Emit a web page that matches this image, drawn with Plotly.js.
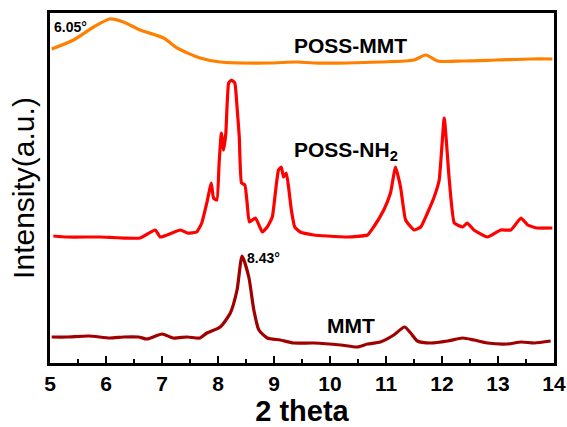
<!DOCTYPE html>
<html>
<head>
<meta charset="utf-8">
<script src="https://cdn.plot.ly/plotly-3.0.1.min.js"></script>
<style>
html,body{margin:0;padding:0;background:#fff;}
#chart{width:567px;height:427px;}
</style>
</head>
<body>
<div id="chart"></div>
<script>
// 2 theta (degrees) and relative intensity (a.u., offset-stacked)
const mmtX = [5.03,5.3,5.69,6.07,6.31,6.58,6.73,7.0,7.2,7.45,7.68,7.8,8.04,8.22,8.34,8.43,8.55,8.64,8.73,8.88,9.11,9.35,9.71,10.19,10.49,10.67,10.9,11.14,11.33,11.44,11.56,11.8,12.1,12.37,12.57,12.81,13.17,13.41,13.65,13.94];
const mmtY = [26,26,27,25,26,26,24,29,25,26,25,30,36,50,73,107,86,53,33,25,23,20,20,18,16,19,21,28,36,30,22,20,22,25,23,20,19,21,20,22];

const nh2X = [5.06,5.3,5.89,6.61,6.88,6.97,7.33,7.45,7.62,7.71,7.8,7.88,7.92,7.98,8.02,8.06,8.1,8.14,8.19,8.24,8.3,8.34,8.38,8.42,8.48,8.52,8.56,8.67,8.79,8.88,8.97,9.03,9.08,9.13,9.17,9.22,9.26,9.31,9.37,9.47,9.71,9.95,10.31,10.67,10.78,10.96,11.08,11.17,11.26,11.35,11.5,11.62,11.74,11.86,11.95,12.04,12.13,12.22,12.37,12.45,12.57,12.81,13.05,13.23,13.41,13.53,13.7,13.97];
const nh2Y = [127,126,126,125,133,126,133,130,131,140,160,180,165,163,200,230,213,230,280,283,280,256,226,180,178,160,141,145,131,136,146,173,193,196,186,190,176,153,136,131,128,127,126,128,136,153,170,196,176,143,133,136,150,166,183,245,183,140,136,140,133,126,133,133,145,138,135,135];

const pmX = [5.03,5.42,5.78,6.07,6.31,6.61,7.03,7.27,7.68,8.04,8.88,9.41,9.71,10.31,10.9,11.5,11.71,11.92,12.39,12.99,13.59,13.97];
const pmY = [314,323,336,344,341,333,325,315,305,301,300,301,300,300,301,303,308,302,302,303,304,304];

const xTickVals = [5,6,7,8,9,10,11,12,13,14];
const xTickText = ['5','6','7','8','9','10','11','12','13','14'];

const traces = [
  {x: mmtX, y: mmtY, type:'scatter', mode:'lines', name:'MMT', line:{color:'#a00000', width:3.2, shape:'spline', smoothing:0.6}},
  {x: nh2X, y: nh2Y, type:'scatter', mode:'lines', name:'POSS-NH2', line:{color:'#ff0000', width:3.2, shape:'spline', smoothing:0.4}},
  {x: pmX, y: pmY, type:'scatter', mode:'lines', name:'POSS-MMT', line:{color:'#ff8000', width:3.2, shape:'spline', smoothing:0.7}}
];

const bold = (size) => ({family:'Liberation Sans, Arial, sans-serif', size:size, color:'#000', weight:'bold'});

const layout = {
  width:567, height:427,
  margin:{l:50, r:13, t:13, b:64},
  paper_bgcolor:'#fff', plot_bgcolor:'#fff',
  showlegend:false,
  xaxis:{
    range:[5,14], tickvals:xTickVals, ticktext:xTickText,
    ticks:'inside', ticklen:7, tickwidth:2, tickcolor:'#000',
    minor:{dtick:0.5, ticks:'inside', ticklen:4, tickwidth:2, tickcolor:'#000'},
    showline:true, linewidth:3, linecolor:'#000', mirror:true,
    showgrid:false, zeroline:false,
    tickfont:bold(21),
    title:{text:'2 theta', font:bold(29), standoff:4}
  },
  yaxis:{
    range:[0,350], showticklabels:false, ticks:'',
    showline:true, linewidth:3, linecolor:'#000', mirror:true,
    showgrid:false, zeroline:false,
    title:{text:'Intensity(a.u.)', font:{family:'Liberation Sans, Arial, sans-serif', size:30, color:'#000'}, standoff:4}
  },
  annotations:[
    {x:5.36, y:336, text:'6.05°', showarrow:false, font:bold(14)},
    {x:10.37, y:318, text:'POSS-MMT', showarrow:false, font:bold(21)},
    {x:10.28, y:212, text:'POSS-NH<sub>2</sub>', showarrow:false, font:bold(21)},
    {x:8.81, y:105, text:'8.43°', showarrow:false, font:bold(14)},
    {x:10.38, y:38, text:'MMT', showarrow:false, font:bold(21)}
  ]
};

Plotly.newPlot('chart', traces, layout, {displayModeBar:false, staticPlot:true});
</script>
</body>
</html>
